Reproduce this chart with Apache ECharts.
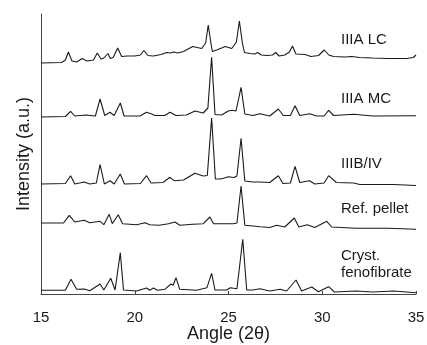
<!DOCTYPE html>
<html>
<head>
<meta charset="utf-8">
<script src="https://cdn.jsdelivr.net/npm/echarts@6/dist/echarts.min.js"></script>
<style>
  html, body { margin: 0; padding: 0; background: #fff; }
  #chart { width: 427px; height: 345px; }
</style>
</head>
<body>
<div id="chart"></div>
<script>
// X-ray powder diffraction patterns, stacked vertically (intensity in arbitrary units)

const xTicks = [15, 20, 25, 30, 35];

const seriesNames = ['IIIA LC', 'IIIA MC', 'IIIB/IV', 'Ref. pellet', 'Cryst.\nfenofibrate'];

// IIIA LC
const lcAngle = [15.0, 16.1, 16.3, 16.46, 16.65, 16.9, 17.2, 17.45, 17.8, 18.0, 18.2, 18.35, 18.57, 18.7, 18.85, 19.09, 19.3, 19.6, 20.0, 20.3, 20.49, 20.7, 21.0, 21.4, 21.7, 21.9, 22.07, 22.3, 22.6, 23.09, 23.57, 23.78, 23.92, 24.06, 24.14, 24.37, 24.83, 25.17, 25.42, 25.58, 25.74, 25.85, 26.15, 26.4, 26.56, 26.75, 27.04, 27.35, 27.52, 27.7, 28.0, 28.25, 28.41, 28.6, 28.68, 29.09, 29.39, 29.8, 30.11, 30.35, 30.6, 31.2, 31.57, 32.0, 32.7, 33.5, 34.5, 34.85, 35.0];
const lcIntensity = [0, 0.5, 3, 11, 2, 1, 4.5, 2, 3, 10, 4, 5, 9.5, 4.5, 5.5, 15, 6.5, 7, 7, 8, 12.5, 7.5, 7, 8.5, 10.5, 10, 11, 10, 11.5, 16.5, 14.5, 20, 38, 20, 11.5, 13, 16.5, 14.5, 21, 42, 20, 10.5, 9.5, 9, 10.5, 8, 7.5, 8, 10.5, 7, 8, 11, 17, 9, 7.5, 8.5, 6.5, 7.5, 13, 8, 6.5, 6, 6.5, 5.5, 5, 4.5, 4.5, 5.5, 8];

// IIIA MC
const mcAngle = [15.0, 16.3, 16.58, 16.8, 17.4, 17.9, 18.15, 18.4, 18.68, 18.9, 19.23, 19.43, 20.28, 20.63, 20.9, 21.07, 21.6, 21.88, 22.2, 22.75, 23.21, 23.65, 23.9, 24.1, 24.28, 24.63, 24.99, 25.2, 25.4, 25.67, 25.87, 26.3, 26.68, 27.2, 27.66, 27.92, 28.3, 28.55, 28.8, 29.33, 29.7, 30.1, 30.34, 30.6, 31.69, 32.7, 35.0];
const mcIntensity = [0, 0.5, 5.7, 1, 2, 1, 18, 1.5, 4.7, 1.5, 14, 1, 1, 4.7, 3, 1.5, 1.5, 4.7, 1.5, 2, 6, 4, 9, 59.7, 2.5, 2, 6, 6.7, 6, 29.7, 3, 1.5, 3.3, 1, 8, 1.5, 1.5, 11.3, 1.5, 3.3, 1, 1, 6.7, 1.5, 2.7, 1, 1.3];

// IIIB/IV
const ivAngle = [15.0, 16.3, 16.58, 16.8, 17.3, 17.6, 17.95, 18.15, 18.38, 18.68, 18.9, 19.23, 19.45, 20.3, 20.63, 20.87, 21.5, 21.88, 22.1, 22.6, 23.21, 23.65, 23.87, 24.1, 24.3, 24.6, 25.0, 25.3, 25.45, 25.67, 25.87, 26.3, 26.68, 27.2, 27.66, 27.9, 28.3, 28.55, 28.8, 29.33, 29.6, 30.1, 30.34, 30.75, 31.69, 32.0, 33.8, 35.0];
const ivIntensity = [2, 2.5, 10.3, 2, 4, 2, 3, 21.3, 2, 5.3, 2, 12, 2, 2.5, 10.3, 3, 3.5, 8.7, 5.3, 6, 12.7, 10, 10.5, 68, 7, 7, 9.3, 8.5, 10, 47.7, 5, 4, 4, 3.5, 10.3, 2.5, 3, 19.7, 3.5, 5.3, 2, 3, 10.3, 3.5, 3, 1.5, 1.5, 0.5];

// Ref. pellet
const refAngle = [15.0, 16.2, 16.51, 16.8, 17.3, 17.6, 18.15, 18.35, 18.64, 18.8, 19.12, 19.35, 20.1, 20.55, 20.8, 21.3, 21.8, 22.15, 22.4, 23.1, 23.65, 24.01, 24.2, 24.63, 25.25, 25.45, 25.67, 25.87, 26.3, 26.68, 27.2, 27.57, 28.0, 28.51, 28.75, 29.2, 29.6, 30.24, 30.5, 31.8, 33.5, 35.0];
const refIntensity = [7, 7, 14.7, 8, 9.7, 7.3, 8.7, 5.3, 15.7, 6.3, 15.3, 6.3, 5.3, 7.3, 5.3, 4.7, 6.3, 8, 4.7, 5.7, 6.3, 13, 6.3, 6.3, 6.3, 7, 44, 4.7, 4, 3.3, 2.5, 4.7, 3, 12, 3, 5.3, 2.5, 8.7, 3, 1.7, 1.7, 0.7];

// Crystalline fenofibrate
const crAngle = [15.0, 16.3, 16.6, 16.9, 17.3, 17.6, 18.15, 18.35, 18.72, 18.95, 19.23, 19.4, 20.1, 20.63, 20.8, 21.0, 21.2, 21.6, 21.93, 22.05, 22.2, 22.4, 23.3, 23.85, 24.1, 24.28, 24.9, 25.1, 25.45, 25.76, 25.97, 26.3, 26.68, 27.2, 27.75, 28.1, 28.6, 28.9, 29.44, 29.8, 30.34, 30.65, 31.8, 32.7, 33.8, 35.0];
const crIntensity = [2.7, 2.7, 13.7, 3.7, 4, 2.3, 9, 3, 14.7, 3, 40.3, 3, 2, 5, 2.7, 5, 2.7, 3.7, 9, 7.7, 15.3, 3.7, 2.7, 5.3, 19.7, 3, 3, 5.3, 4.3, 53.7, 3, 3, 4.3, 2, 3.7, 2, 13, 2, 6, 1.3, 6.3, 1, 2, 1, 2, 0.3];

// vertical offset applied to each pattern so they sit one above another
const offsets = [231, 177, 108, 64, 1];

const patterns = [
  [lcAngle, lcIntensity],
  [mcAngle, mcIntensity],
  [ivAngle, ivIntensity],
  [refAngle, refIntensity],
  [crAngle, crIntensity]
];

const FONT = '"Liberation Sans", Arial, Helvetica, sans-serif';

const series = patterns.map(([ang, inten], i) => ({
  name: seriesNames[i],
  type: 'line',
  showSymbol: false,
  symbol: 'none',
  silent: true,
  lineStyle: { color: '#1a1a1a', width: 1.1 },
  data: ang.map((a, k) => [a, inten[k] + offsets[i]])
}));

// pattern labels placed to the right of each trace
const labelTops = [31, 90, 155, 200, 247];
const graphic = seriesNames.map((txt, i) => ({
  type: 'text',
  left: 341,
  top: labelTops[i],
  style: {
    text: txt,
    font: '15px ' + FONT,
    fill: '#1a1a1a',
    lineHeight: 17
  }
}));

const chart = echarts.init(document.getElementById('chart'), null, { renderer: 'canvas' });
chart.setOption({
  animation: false,
  backgroundColor: '#fff',
  grid: { left: 41, right: 11, top: 14, bottom: 51, containLabel: false, outerBoundsMode: 'none' },
  xAxis: {
    type: 'value',
    min: xTicks[0],
    max: xTicks[xTicks.length - 1],
    interval: 5,
    name: 'Angle (2θ)',
    nameLocation: 'middle',
    nameGap: 31,
    nameMoveOverlap: false,
    nameTextStyle: { fontSize: 18, color: '#1a1a1a', fontFamily: FONT },
    axisLine: { show: true, lineStyle: { color: '#444', width: 1 } },
    axisTick: { show: true, inside: true, length: 3, lineStyle: { color: '#444' } },
    axisLabel: { fontSize: 15, color: '#1a1a1a', fontFamily: FONT, margin: 16 },
    splitLine: { show: false }
  },
  yAxis: {
    type: 'value',
    min: 0,
    max: 280,
    name: 'Intensity (a.u.)',
    nameLocation: 'middle',
    nameGap: 8,
    nameMoveOverlap: false,
    nameTextStyle: { fontSize: 18, color: '#1a1a1a', fontFamily: FONT },
    axisLine: { show: true, lineStyle: { color: '#444', width: 1 } },
    axisTick: { show: false },
    axisLabel: { show: false },
    splitLine: { show: false }
  },
  series: series,
  graphic: graphic
});
</script>
</body>
</html>
